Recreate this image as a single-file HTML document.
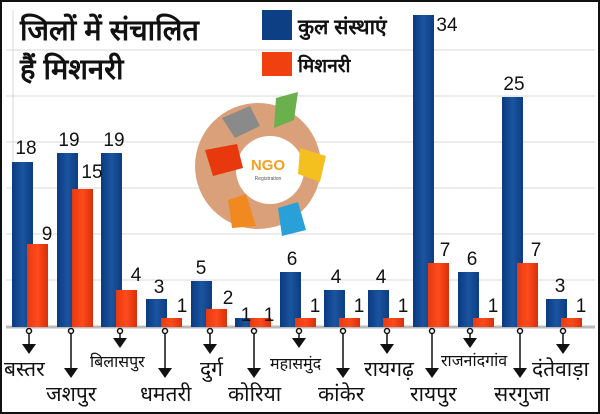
<!DOCTYPE html>
<html><head><meta charset="utf-8"><style>
html,body{margin:0;padding:0;background:#fff}
svg{display:block}
text{font-family:"Liberation Sans","Noto Sans CJK SC",sans-serif}
</style></head><body>
<svg width="600" height="414" viewBox="0 0 600 414" xmlns="http://www.w3.org/2000/svg">
<defs>
<linearGradient id="b" x1="0" x2="1"><stop offset="0" stop-color="#0a3a80"/><stop offset="0.5" stop-color="#1b54a0"/><stop offset="1" stop-color="#0d3d82"/></linearGradient>
<linearGradient id="r" x1="0" x2="1"><stop offset="0" stop-color="#e63a10"/><stop offset="0.5" stop-color="#ff4a1c"/><stop offset="1" stop-color="#d8300a"/></linearGradient>
</defs>
<rect x="0" y="0" width="600" height="414" fill="#fff"/>
<g stroke="#d8d8d8" stroke-width="1">
<line x1="6" y1="50" x2="595" y2="50"/><line x1="6" y1="96" x2="595" y2="96"/>
<line x1="6" y1="142" x2="595" y2="142"/><line x1="6" y1="188" x2="595" y2="188"/>
<line x1="6" y1="234" x2="595" y2="234"/><line x1="6" y1="280" x2="595" y2="280"/>
<line x1="13" y1="10" x2="13" y2="327"/>
</g>
<text x="20" y="40" font-size="29" font-weight="bold" fill="#111">जिलों में संचालित</text>
<text x="20" y="79" font-size="29" font-weight="bold" fill="#111">हैं मिशनरी</text>
<rect x="262" y="10" width="30" height="30" fill="#0d3f85"/>
<text x="298" y="34" font-size="21" font-weight="bold" fill="#111">कुल संस्थाएं</text>
<rect x="262" y="52" width="30" height="24" fill="#f0400f"/>
<text x="298" y="72" font-size="19" font-weight="bold" fill="#111">मिशनरी</text>
<circle cx="258" cy="166" r="63" fill="#d9a07a"/>
<circle cx="270" cy="170" r="34" fill="#fff"/>
<path d="M222 118 l28 -12 l10 20 l-25 12z" fill="#8a8a8a"/>
<path d="M276 98 l22 -6 l-4 28 l-20 8z" fill="#6ab04c"/>
<path d="M205 150 l32 -6 l6 24 l-30 8z" fill="#e8380e"/>
<path d="M300 148 l26 8 l-6 26 l-22 -8z" fill="#f4c020"/>
<path d="M228 200 l18 -6 l10 32 l-24 2z" fill="#f08a20"/>
<path d="M278 208 l20 -6 l8 28 l-24 6z" fill="#2aa0d8"/>
<text x="268" y="170" font-size="15" font-weight="bold" fill="#f4a020" text-anchor="middle">NGO</text>
<text x="268" y="180" font-size="5" fill="#555" text-anchor="middle">Registration</text>
<line x1="6" y1="327" x2="595" y2="327" stroke="#bbb" stroke-width="3"/>
<g>
<rect x="12" y="162" width="21" height="165" fill="url(#b)"/><rect x="27" y="244" width="21" height="83" fill="url(#r)"/>
<rect x="57" y="153" width="21" height="174" fill="url(#b)"/><rect x="72" y="189" width="21" height="138" fill="url(#r)"/>
<rect x="101" y="153" width="21" height="174" fill="url(#b)"/><rect x="116" y="290" width="21" height="37" fill="url(#r)"/>
<rect x="146" y="299" width="21" height="28" fill="url(#b)"/><rect x="161" y="318" width="21" height="9" fill="url(#r)"/>
<rect x="191" y="281" width="21" height="46" fill="url(#b)"/><rect x="206" y="309" width="21" height="18" fill="url(#r)"/>
<rect x="235" y="318" width="21" height="9" fill="url(#b)"/><rect x="250" y="318" width="21" height="9" fill="url(#r)"/>
<rect x="280" y="272" width="21" height="55" fill="url(#b)"/><rect x="295" y="318" width="21" height="9" fill="url(#r)"/>
<rect x="324" y="290" width="21" height="37" fill="url(#b)"/><rect x="339" y="318" width="21" height="9" fill="url(#r)"/>
<rect x="368" y="290" width="21" height="37" fill="url(#b)"/><rect x="383" y="318" width="21" height="9" fill="url(#r)"/>
<rect x="413" y="15" width="21" height="312" fill="url(#b)"/><rect x="428" y="263" width="21" height="64" fill="url(#r)"/>
<rect x="458" y="272" width="21" height="55" fill="url(#b)"/><rect x="473" y="318" width="21" height="9" fill="url(#r)"/>
<rect x="502" y="97" width="21" height="230" fill="url(#b)"/><rect x="517" y="263" width="21" height="64" fill="url(#r)"/>
<rect x="546" y="299" width="21" height="28" fill="url(#b)"/><rect x="561" y="318" width="21" height="9" fill="url(#r)"/>
</g>
<g font-size="19" fill="#111" text-anchor="middle">
<text x="26" y="154">18</text><text x="47" y="240">9</text>
<text x="69" y="146">19</text><text x="92" y="178">15</text>
<text x="114" y="146">19</text><text x="136" y="281">4</text>
<text x="159" y="293">3</text><text x="182" y="312">1</text>
<text x="201" y="274">5</text><text x="228" y="304">2</text>
<text x="246" y="321">1</text><text x="269" y="321">1</text>
<text x="292" y="265">6</text><text x="315" y="312">1</text>
<text x="336" y="283">4</text><text x="359" y="312">1</text>
<text x="381" y="283">4</text><text x="403" y="312">1</text>
<text x="447" y="31">34</text><text x="445" y="256">7</text>
<text x="472" y="265">6</text><text x="493" y="312">1</text>
<text x="514" y="90">25</text><text x="536" y="256">7</text>
<text x="560" y="292">3</text><text x="581" y="312">1</text>
</g>
<g stroke="#111" stroke-width="1.5" fill="none">
<circle cx="29" cy="331" r="2.5"/><line x1="29" y1="334" x2="29" y2="346"/>
<circle cx="71" cy="331" r="2.5"/><line x1="71" y1="334" x2="71" y2="370"/>
<circle cx="120" cy="331" r="2.5"/><line x1="120" y1="334" x2="120" y2="340"/>
<circle cx="165" cy="331" r="2.5"/><line x1="165" y1="334" x2="165" y2="370"/>
<circle cx="210" cy="331" r="2.5"/><line x1="210" y1="334" x2="210" y2="346"/>
<circle cx="254" cy="331" r="2.5"/><line x1="254" y1="334" x2="254" y2="370"/>
<circle cx="299" cy="331" r="2.5"/><line x1="299" y1="334" x2="299" y2="340"/>
<circle cx="343" cy="331" r="2.5"/><line x1="343" y1="334" x2="343" y2="370"/>
<circle cx="387" cy="331" r="2.5"/><line x1="387" y1="334" x2="387" y2="346"/>
<circle cx="432" cy="331" r="2.5"/><line x1="432" y1="334" x2="432" y2="370"/>
<circle cx="470" cy="331" r="2.5"/><line x1="470" y1="334" x2="470" y2="340"/>
<circle cx="520" cy="331" r="2.5"/><line x1="520" y1="334" x2="520" y2="370"/>
<circle cx="563" cy="331" r="2.5"/><line x1="563" y1="334" x2="563" y2="346"/>
</g>
<g fill="#111">
<path d="M22 344h14l-7 10z"/><path d="M64 368h14l-7 10z"/><path d="M113 338h14l-7 10z"/>
<path d="M158 368h14l-7 10z"/><path d="M203 344h14l-7 10z"/><path d="M247 368h14l-7 10z"/>
<path d="M292 338h14l-7 10z"/><path d="M336 368h14l-7 10z"/><path d="M380 344h14l-7 10z"/>
<path d="M425 368h14l-7 10z"/><path d="M463 338h14l-7 10z"/><path d="M513 368h14l-7 10z"/>
<path d="M556 344h14l-7 10z"/>
</g>
<g fill="#111" font-size="21">
<text x="4" y="376">बस्तर</text>
<text x="46" y="401">जशपुर</text>
<text x="90" y="367" font-size="16">बिलासपुर</text>
<text x="140" y="401">धमतरी</text>
<text x="200" y="376">दुर्ग</text>
<text x="228" y="401">कोरिया</text>
<text x="270" y="369" font-size="16">महासमुंद</text>
<text x="318" y="401">कांकेर</text>
<text x="364" y="376">रायगढ़</text>
<text x="410" y="401">रायपुर</text>
<text x="441" y="366" font-size="16">राजनांदगांव</text>
<text x="494" y="401">सरगुजा</text>
<text x="532" y="376">दंतेवाड़ा</text>
</g>
<rect x="1" y="1" width="598" height="412" fill="none" stroke="#111" stroke-width="2"/>
</svg>
</body></html>
